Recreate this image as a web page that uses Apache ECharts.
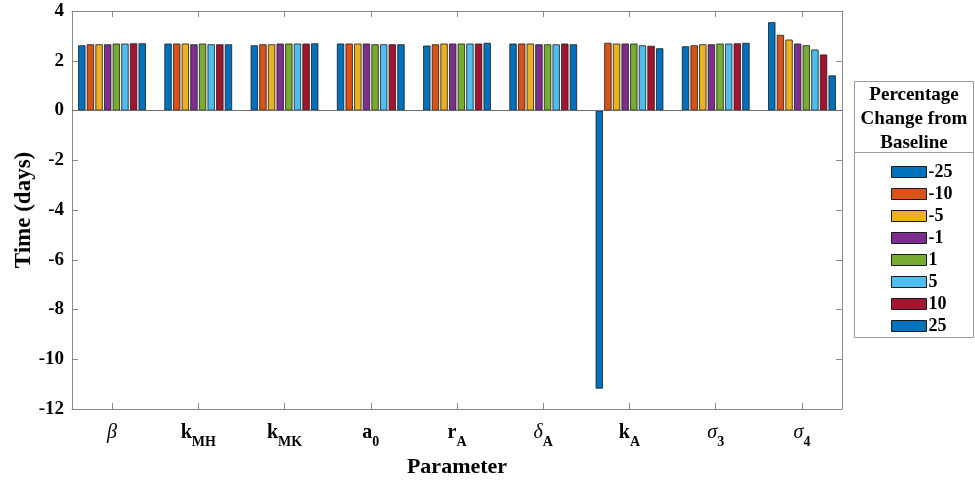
<!DOCTYPE html>
<html>
<head>
<meta charset="utf-8">
<script src="https://cdn.jsdelivr.net/npm/echarts@6/dist/echarts.min.js"></script>
<style>
  html, body { margin: 0; padding: 0; background: #fff; }
  #chart { width: 975px; height: 480px; }
</style>
</head>
<body>
<div id="chart"></div>
<script>
// Parameters (name_subscript) along the x axis
const parameters = ['β', 'k_MH', 'k_MK', 'a_0', 'r_A', 'δ_A', 'k_A', 'σ_3', 'σ_4'];

// Percentage change from baseline for each series
const changes = ['-25', '-10', '-5', '-1', '1', '5', '10', '25'];

// Time (days) for each parameter, one array per percentage change
const pctMinus25 = [2.62, 2.69, 2.62, 2.69, 2.61, 2.69, -11.18, 2.58, 3.55];
const pctMinus10 = [2.66, 2.69, 2.66, 2.69, 2.66, 2.69, 2.72, 2.62, 3.04];
const pctMinus5  = [2.66, 2.69, 2.66, 2.69, 2.69, 2.69, 2.69, 2.66, 2.85];
const pctMinus1  = [2.66, 2.66, 2.69, 2.69, 2.69, 2.66, 2.69, 2.66, 2.69];
const pctPlus1   = [2.69, 2.69, 2.69, 2.66, 2.69, 2.66, 2.69, 2.69, 2.62];
const pctPlus5   = [2.69, 2.66, 2.69, 2.66, 2.69, 2.66, 2.62, 2.69, 2.45];
const pctPlus10  = [2.70, 2.66, 2.69, 2.66, 2.69, 2.69, 2.60, 2.70, 2.25];
const pctPlus25  = [2.70, 2.66, 2.70, 2.66, 2.72, 2.66, 2.50, 2.72, 1.41];

// Y axis range and step
const yMin = -12, yMax = 4, yStep = 2;

// Parameter slots sit at 1..N; the x range leaves a little room on each side
const xPositions = parameters.map((p, i) => i + 1);
const xPad = 0.464;

const seriesValues = [pctMinus25, pctMinus10, pctMinus5, pctMinus1, pctPlus1, pctPlus5, pctPlus10, pctPlus25];
const palette = ['#0072BD', '#D95319', '#EDB120', '#7E2F8E', '#77AC30', '#4DBEEE', '#A2142F', '#0072BD'];

const serif = 'Liberation Serif, Times New Roman, serif';
const axisGray = '#8a8a8a';

function paramLabel(value) {
  const idx = Math.round(value) - 1;
  if (Math.abs(value - Math.round(value)) > 1e-6 || idx < 0 || idx >= parameters.length) return '';
  const parts = parameters[idx].split('_');
  const greek = /[α-ω]/.test(parts[0]);
  const main = greek ? '{g|' + parts[0] + '}' : '{m|' + parts[0] + '}';
  return parts.length > 1 ? main + '{s|' + parts[1] + '}' : main;
}

const chart = echarts.init(document.getElementById('chart'), null, { renderer: 'canvas' });

const series = changes.map((name, i) => ({
  name: name,
  type: 'bar',
  xAxisIndex: 0,
  yAxisIndex: 0,
  data: seriesValues[i].map((v, j) => [xPositions[j], v]),
  barGap: '18%',
  barCategoryGap: '21.5%',
  itemStyle: { color: palette[i], borderColor: '#1a1a1a', borderWidth: 0.8 },
  emphasis: { disabled: true },
  markLine: i === 0 ? {
    silent: true,
    symbol: ['none', 'none'],
    label: { show: false },
    lineStyle: { color: '#6e6e6e', width: 1, type: 'solid' },
    data: [{ yAxis: 0 }]
  } : undefined
}));

const xCommon = {
  type: 'value',
  min: 1 - xPad,
  max: parameters.length + xPad,
  splitLine: { show: false },
  axisLine: { show: true, onZero: false, lineStyle: { color: axisGray, width: 1 } },
  axisTick: { show: true, inside: true, length: 6, customValues: xPositions, lineStyle: { color: axisGray } }
};

chart.setOption({
  animation: false,
  backgroundColor: '#fff',
  grid: { left: 72, right: 133, top: 11, bottom: 71, containLabel: false, outerBoundsMode: 'none' },
  xAxis: [Object.assign({}, xCommon, {
    position: 'bottom',
    axisLabel: {
      margin: 14,
      customValues: xPositions,
      formatter: paramLabel,
      rich: {
        m: { fontFamily: serif, fontWeight: 'bold', fontSize: 20, color: '#000', lineHeight: 26, verticalAlign: 'top' },
        g: { fontFamily: serif, fontStyle: 'italic', fontSize: 20, color: '#000', lineHeight: 26, verticalAlign: 'top' },
        s: { fontFamily: serif, fontWeight: 'bold', fontSize: 14, color: '#000', lineHeight: 14, verticalAlign: 'bottom' }
      }
    },
    name: 'Parameter',
    nameLocation: 'middle',
    nameGap: 47,
    nameMoveOverlap: false,
    nameTextStyle: { fontFamily: serif, fontWeight: 'bold', fontSize: 22, color: '#000' }
  }), Object.assign({}, xCommon, {
    position: 'top',
    axisLabel: { show: false }
  })],
  yAxis: [{
    type: 'value',
    min: yMin, max: yMax, interval: yStep,
    position: 'left',
    axisLine: { show: true, onZero: false, lineStyle: { color: axisGray, width: 1 } },
    axisTick: { show: true, inside: true, length: 6, lineStyle: { color: axisGray } },
    splitLine: { show: false },
    axisLabel: { fontFamily: serif, fontWeight: 'bold', fontSize: 19, color: '#000', margin: 8 },
    name: 'Time (days)',
    nameLocation: 'middle',
    nameGap: 36,
    nameMoveOverlap: false,
    nameTextStyle: { fontFamily: serif, fontWeight: 'bold', fontSize: 23, color: '#000' }
  }, {
    type: 'value',
    min: yMin, max: yMax, interval: yStep,
    position: 'right',
    axisLine: { show: true, onZero: false, lineStyle: { color: axisGray, width: 1 } },
    axisTick: { show: true, inside: true, length: 6, lineStyle: { color: axisGray } },
    splitLine: { show: false },
    axisLabel: { show: false }
  }],
  legend: {
    orient: 'vertical',
    left: 886,
    top: 158,
    icon: 'rect',
    itemWidth: 35,
    itemHeight: 11,
    itemGap: 4,
    data: changes,
    textStyle: { fontFamily: serif, fontWeight: 'bold', fontSize: 18, color: '#000', padding: [0, 0, 0, -3] },
    itemStyle: { borderColor: '#1a1a1a', borderWidth: 1 },
    selectedMode: false
  },
  graphic: [
    {
      type: 'rect',
      shape: { x: 854.5, y: 81.5, width: 119, height: 256 },
      style: { fill: 'none', stroke: '#9a9a9a', lineWidth: 1 },
      z: 0
    },
    {
      type: 'line',
      shape: { x1: 854.5, y1: 152.5, x2: 973.5, y2: 152.5 },
      style: { stroke: '#9a9a9a', lineWidth: 1 }
    },
    {
      type: 'text',
      x: 914, y: 83,
      style: {
        text: 'Percentage\nChange from\nBaseline',
        font: 'bold 19px ' + serif,
        fill: '#000',
        align: 'center',
        verticalAlign: 'top',
        lineHeight: 24
      }
    }
  ],
  series: series
});
</script>
</body>
</html>
